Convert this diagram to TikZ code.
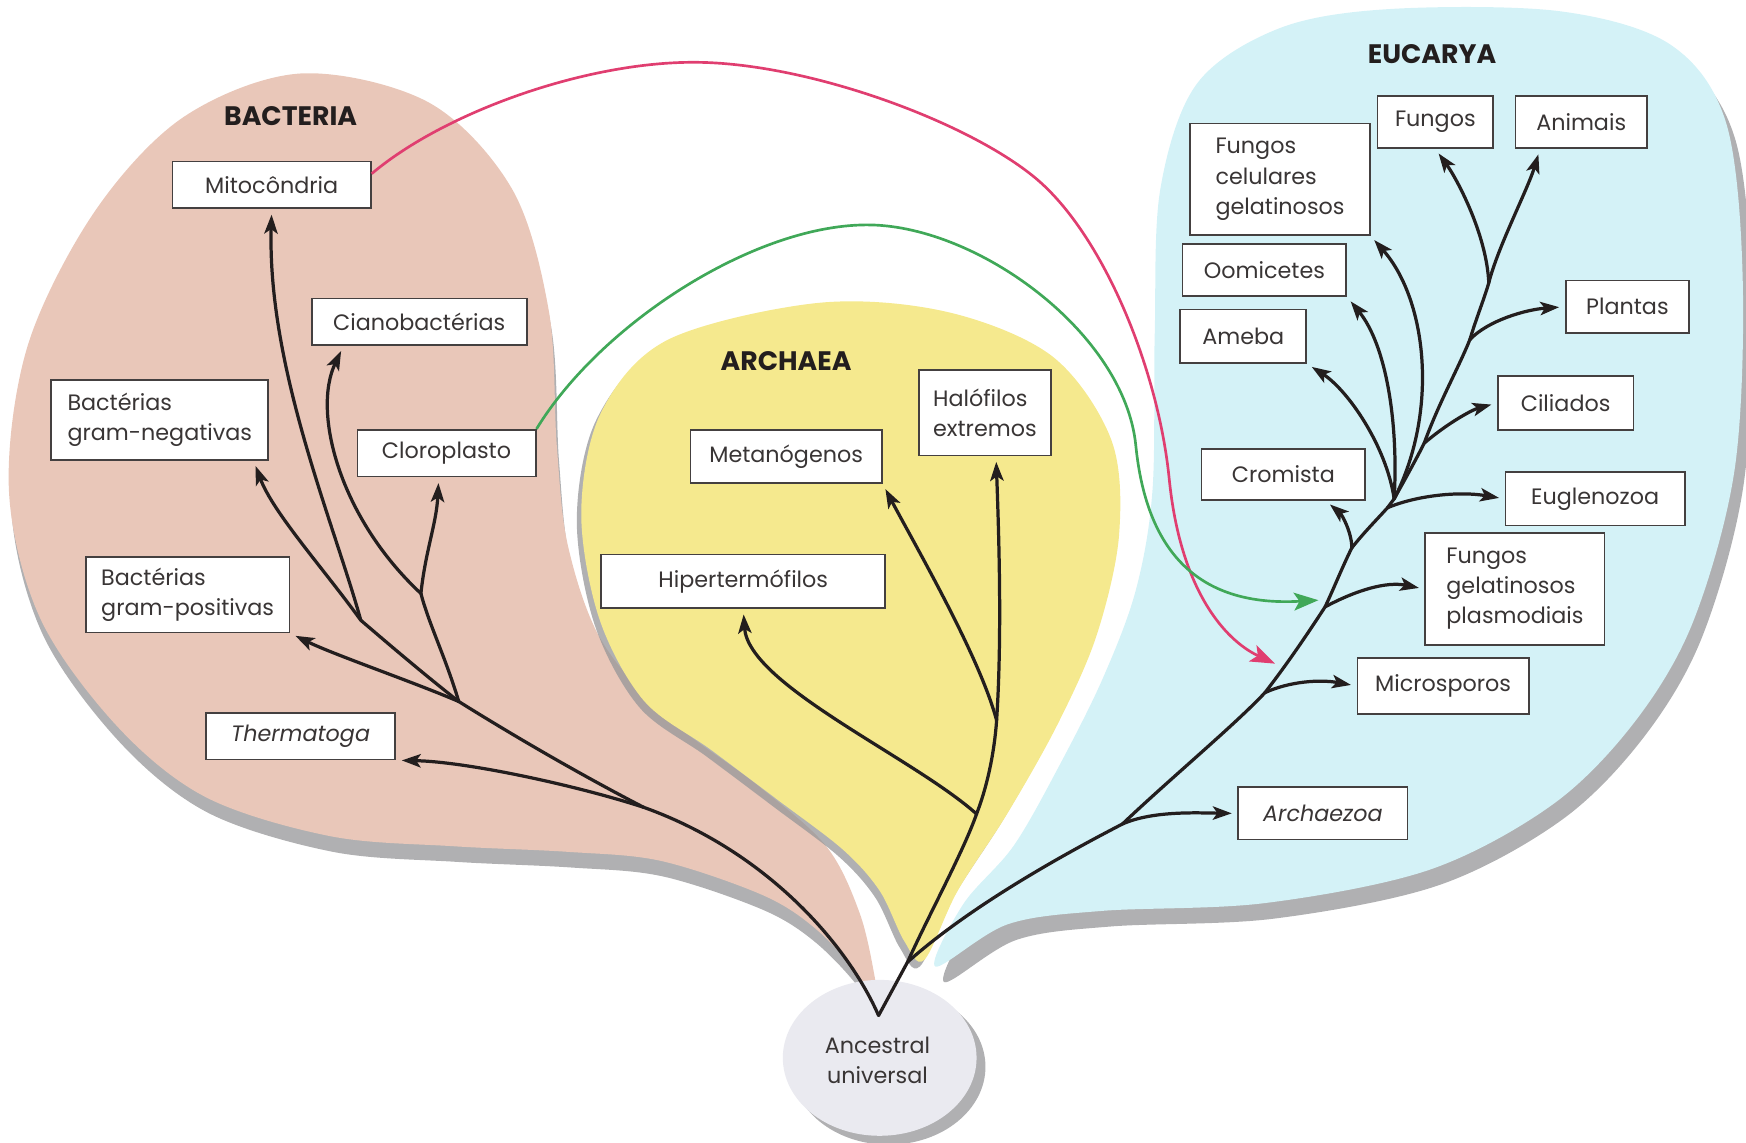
\documentclass[tikz,border=0pt]{standalone}
\usepackage{fontspec}
\setmainfont{Poppins}
\usetikzlibrary{arrows.meta}

\definecolor{bacpink}{RGB}{233,199,185}
\definecolor{arcyellow}{RGB}{245,233,142}
\definecolor{eucyan}{RGB}{212,242,247}
\definecolor{shade}{RGB}{150,150,152}
\definecolor{ink}{RGB}{35,30,30}
\definecolor{mitored}{RGB}{224,62,112}
\definecolor{clorogreen}{RGB}{64,168,88}
\definecolor{ancgray}{RGB}{234,234,240}

\begin{document}
\begin{tikzpicture}[x=0.5pt, y=-0.5pt,
        taxon/.style={draw=ink!85, line width=0.8pt, fill=white, align=left, inner sep=2pt, font=\fontsize{10}{13.5}\selectfont, text=ink!90},
        realm/.style={font=\bfseries\fontsize{12}{14}\selectfont, text=ink},
        trunk/.style={draw=ink, line width=1.45pt, line cap=round},
        leaf/.style={trunk, -{Stealth[length=8.5pt, width=6pt, inset=2pt]}, shorten >=2.5pt},
        transfer/.style={line width=1.2pt, -{Stealth[length=11pt, width=8pt, inset=2.5pt]}},
        blobshadow/.style={preaction={fill=shade, opacity=0.75, transform canvas={shift={(#1)}}}}]
        \useasboundingbox (0,0) rectangle (1568,1026);

        \fill[bacpink, blobshadow={1pt,-7pt}] plot[smooth cycle, tension=0.55] coordinates {(270,66) (385,92) (460,170) (493,280) (500,400) (510,490) (540,575) (600,645) (680,705) (742,760) (772,820) (786,880) (789,912) (770,874) (730,832) (683,803) (593,773) (510,765) (408,760) (297,751) (185,716) (105,652) (36,555) (8,440) (25,310) (85,190) (165,105)};
        \fill[arcyellow, blobshadow={-2pt,-3pt}] plot[smooth cycle, tension=0.55] coordinates {(735,272) (850,280) (945,320) (998,395) (1005,480) (985,570) (950,650) (905,730) (860,800) (830,862) (812,845) (790,800) (757,763) (698,718) (638,673) (578,629) (538,555) (522,460) (540,370) (600,305)};
        \fill[eucyan, blobshadow={4pt,-7pt}] plot[smooth cycle, tension=0.55] coordinates {(1250,8) (1400,10) (1500,40) (1550,110) (1565,250) (1558,420) (1521,557) (1469,647) (1395,722) (1284,781) (1136,811) (990,818) (905,830) (840,868) (865,812) (910,760) (950,690) (990,610) (1020,530) (1035,440) (1037,300) (1042,170) (1075,75) (1150,25)};
        \fill[ancgray, blobshadow={4pt,-4pt}] (790,950) ellipse [x radius=87, y radius=70];

        \node[realm] (bac) at (261,104) {BACTERIA};
        \node[realm] (arc) at (706,324) {ARCHAEA};
        \node[realm] (euc) at (1286,49) {EUCARYA};
        \node[align=center, font=\fontsize{10}{13.5}\selectfont, text=ink!90] (anc) at (788,952) {Ancestral\\universal};

        \node[taxon, minimum width=89pt, minimum height=21pt] (mito) at (244,166) {Mitocôndria};
        \node[taxon, minimum width=96.5pt, minimum height=21pt] (ciano) at (376.5,289) {Cianobactérias};
        \node[taxon, minimum width=97.5pt, minimum height=36pt] (gneg) at (143.5,377) {Bactérias\\gram-negativas};
        \node[taxon, minimum width=80pt, minimum height=21pt] (cloro) at (401,407) {Cloroplasto};
        \node[taxon, minimum width=91.5pt, minimum height=34pt] (gpos) at (168.5,534) {Bactérias\\gram-positivas};
        \node[taxon, minimum width=85pt, minimum height=21pt] (thermo) at (270,661) {\textit{Thermatoga}};

        \node[taxon, minimum width=86pt, minimum height=24pt] (metano) at (706,410) {Metanógenos};
        \node[taxon, minimum width=59.5pt, minimum height=38.5pt] (halo) at (884.5,370.5) {Halófilos\\extremos};
        \node[taxon, minimum width=127.5pt, minimum height=24pt] (hiper) at (667.5,522) {Hipertermófilos};

        \node[taxon, minimum width=80.5pt, minimum height=50pt] (fcg) at (1149.5,161) {Fungos\\celulares\\gelatinosos};
        \node[taxon, minimum width=52pt, minimum height=23.5pt] (fungos) at (1289,109.5) {Fungos};
        \node[taxon, minimum width=59pt, minimum height=23.5pt] (animais) at (1420,109.5) {Animais};
        \node[taxon, minimum width=73.5pt, minimum height=23.5pt] (oomic) at (1135.5,242.5) {Oomicetes};
        \node[taxon, minimum width=56.5pt, minimum height=24pt] (ameba) at (1116.5,302) {Ameba};
        \node[taxon, minimum width=55.5pt, minimum height=23.5pt] (plantas) at (1461.5,275.5) {Plantas};
        \node[taxon, minimum width=61pt, minimum height=24pt] (ciliados) at (1406,362) {Ciliados};
        \node[taxon, minimum width=73.5pt, minimum height=23pt] (cromista) at (1152.5,426) {Cromista};
        \node[taxon, minimum width=80.5pt, minimum height=24pt] (eugleno) at (1432.5,448) {Euglenozoa};
        \node[taxon, minimum width=80.5pt, minimum height=50pt] (fgp) at (1360.5,529) {Fungos\\gelatinosos\\plasmodiais};
        \node[taxon, minimum width=77pt, minimum height=25pt] (micro) at (1296,616) {Microsporos};
        \node[taxon, minimum width=76pt, minimum height=23.5pt] (archaezoa) at (1188,730.5) {\textit{Archaezoa}};

        \coordinate (r) at (789,912);
        \coordinate (j) at (815,864);
        \coordinate (t) at (578,725);
        \coordinate (f1) at (412,630);
        \coordinate (n2) at (324,557);
        \coordinate (n3) at (378,533);
        \coordinate (a1) at (877,731);
        \coordinate (a2) at (895,647);
        \coordinate (e0) at (1008,740);
        \coordinate (e1) at (1136,622);
        \coordinate (e2) at (1190,545);
        \coordinate (e3) at (1214,492);
        \coordinate (e4) at (1246,456);
        \coordinate (e5) at (1252,448);
        \coordinate (e6) at (1279,398);
        \coordinate (e7) at (1320,305);
        \coordinate (e8) at (1337,254);
        \coordinate (mitoin) at (1145,596);
        \coordinate (cloroin) at (1184,539);

        \draw[trunk] (r) .. controls (762,850) and (690,765) .. (t);
        \draw[trunk] (t) .. controls (520,695) and (460,660) .. (f1);
        \draw[leaf] (t) .. controls (520,706) and (420,684) .. (thermo.south east);
        \draw[leaf] (f1) .. controls (370,612) and (300,588) .. (gpos.south east);
        \draw[trunk] (f1) .. controls (380,605) and (345,575) .. (n2);
        \draw[leaf] (n2) .. controls (290,510) and (245,460) .. ([xshift=-7pt]gneg.south east);
        \draw[leaf] (n2) .. controls (300,470) and (240,330) .. (mito.south);
        \draw[trunk] (f1) .. controls (400,590) and (385,560) .. (n3);
        \draw[leaf] (n3) .. controls (382,495) and (392,470) .. ([xshift=-3.5pt]cloro.south);
        \draw[leaf] (n3) .. controls (305,465) and (280,370) .. ([xshift=-34pt]ciano.south);

        \draw[trunk] (r) to (j);
        \draw[trunk] (j) .. controls (835,820) and (865,765) .. (a1);
        \draw[trunk] (a1) .. controls (887,705) and (893,675) .. (a2);
        \draw[leaf] (a2) .. controls (900,570) and (897,480) .. ([xshift=5pt]halo.south);
        \draw[leaf] (a2) .. controls (880,590) and (822,490) .. (metano.south east);
        \draw[leaf] (a1) .. controls (820,680) and (672,615) .. (hiper.south);

        \draw[trunk] (j) .. controls (870,815) and (950,770) .. (e0);
        \draw[leaf] (e0) .. controls (1035,728) and (1075,730) .. (archaezoa.west);
        \draw[trunk] (e0) .. controls (1050,700) and (1110,650) .. (e1);
        \draw[leaf] (e1) .. controls (1158,612) and (1185,610) .. (micro.west);
        \draw[trunk] (e1) .. controls (1157,595) and (1177,565) .. (e2);
        \draw[leaf] (e2) .. controls (1218,530) and (1245,522) .. (fgp.west);
        \draw[trunk] (e2) .. controls (1198,528) and (1206,508) .. (e3);
        \draw[leaf] (e3) .. controls (1214,478) and (1205,462) .. ([xshift=19pt]cromista.south);
        \draw[trunk] (e3) .. controls (1225,478) and (1238,465) .. (e4);
        \draw[leaf] (e4) .. controls (1272,445) and (1310,441) .. (eugleno.west);
        \draw[trunk] (e4) to (e5);
        \draw[leaf] (e5) .. controls (1245,400) and (1210,350) .. (ameba.south east);
        \draw[leaf] (e5) .. controls (1256,380) and (1245,310) .. (oomic.south east);
        \draw[leaf] (e5) .. controls (1292,370) and (1282,270) .. (fcg.south east);
        \draw[trunk] (e5) .. controls (1262,430) and (1272,412) .. (e6);
        \draw[leaf] (e6) .. controls (1300,380) and (1322,368) .. (ciliados.west);
        \draw[trunk] (e6) .. controls (1292,362) and (1310,330) .. (e7);
        \draw[leaf] (e7) .. controls (1336,288) and (1370,278) .. (plantas.west);
        \draw[trunk] (e7) .. controls (1326,285) and (1333,268) .. (e8);
        \draw[leaf] (e8) .. controls (1335,210) and (1308,160) .. (fungos.south);
        \draw[leaf] (e8) .. controls (1345,222) and (1372,170) .. ([xshift=-18.5pt]animais.south);

        \draw[transfer, mitored] ([yshift=5pt]mito.east) .. controls (400,100) and (530,54) .. (629,56)
            .. controls (730,58) and (870,110) .. (930,160)
            .. controls (990,210) and (1040,330) .. (1050,430)
            .. controls (1060,530) and (1100,575) .. (mitoin);
        \draw[transfer, clorogreen] (cloro.north east) .. controls (540,290) and (680,200) .. (782,202)
            .. controls (880,204) and (1010,300) .. (1020,400)
            .. controls (1030,500) and (1080,545) .. (cloroin);
    \end{tikzpicture}
\end{document}
